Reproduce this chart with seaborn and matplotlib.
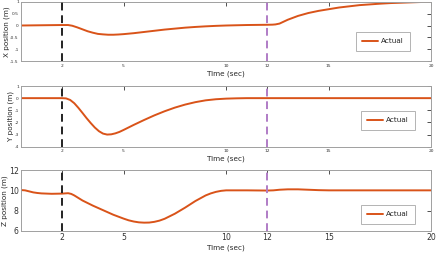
import numpy as np
import pandas as pd
import matplotlib
matplotlib.use("Agg")
import matplotlib.pyplot as plt
import seaborn as sns

# ---- data ----
t_x = [0, 1, 2, 2.3, 2.5, 2.75, 3, 3.25, 3.5, 3.75, 4, 4.25, 4.5, 4.75, 5, 5.5,
       6, 6.5, 7, 7.5, 8, 8.5, 9, 9.5, 10, 11, 12, 12.25, 12.4, 12.6, 12.8, 13,
       13.5, 14, 14.5, 15, 15.5, 16, 16.5, 17, 17.5, 18, 18.5, 19, 19.5, 20]
x_pos = [0.0, 0.01, 0.02, 0.02, -0.01, -0.08, -0.16, -0.24, -0.30, -0.35, -0.37,
         -0.385, -0.385, -0.375, -0.36, -0.32, -0.27, -0.22, -0.17, -0.13, -0.09,
         -0.06, -0.035, -0.015, 0.0, 0.02, 0.03, 0.035, 0.045, 0.08, 0.16, 0.24,
         0.40, 0.52, 0.61, 0.68, 0.75, 0.80, 0.85, 0.88, 0.91, 0.935, 0.95,
         0.965, 0.98, 0.99]

t_y = [0, 1, 2, 2.2, 2.4, 2.6, 2.8, 3.0, 3.2, 3.4, 3.6, 3.8, 4.0, 4.2, 4.4, 4.6,
       4.8, 5.0, 5.5, 6, 6.5, 7, 7.5, 8, 8.5, 9, 9.5, 10, 10.5, 11, 20]
y_pos = [0.0, 0.0, 0.0, -0.02, -0.15, -0.42, -0.80, -1.22, -1.65, -2.05, -2.42,
         -2.72, -2.92, -3.0, -2.98, -2.90, -2.78, -2.62, -2.20, -1.80, -1.42,
         -1.08, -0.78, -0.53, -0.33, -0.18, -0.09, -0.04, -0.015, 0.0, 0.0]

t_z = [0, 0.2, 0.4, 0.6, 0.8, 1, 1.5, 2, 2.3, 2.45, 2.6, 2.8, 3, 3.5, 4, 4.5, 5,
       5.25, 5.5, 5.75, 6, 6.25, 6.5, 6.75, 7, 7.5, 8, 8.5, 9, 9.25, 9.5, 9.75,
       10, 11, 12, 12.3, 12.6, 13, 13.5, 14, 14.5, 15, 20]
z_pos = [10.03, 10.0, 9.9, 9.8, 9.74, 9.7, 9.66, 9.68, 9.72, 9.65, 9.5, 9.25,
         9.0, 8.5, 8.05, 7.6, 7.22, 7.05, 6.93, 6.85, 6.82, 6.83, 6.9, 7.02, 7.2,
         7.7, 8.3, 8.95, 9.5, 9.7, 9.85, 9.95, 10.0, 10.0, 9.98, 10.0, 10.06,
         10.1, 10.1, 10.06, 10.02, 10.0, 10.0]

events = [2, 12]
event_colors = ["#222222", "#B07CC6"]
xticks = [2, 5, 10, 12, 15, 20]

panels = [
    ("X position (m)", t_x, x_pos, (-1.5, 1), [-1.5, -1, -0.5, 0, 0.5, 1],
     ["-1.5", "-1", "-0.5", "0", "0.5", "1"], 3.2, (0.957, 0.558)),
    ("Y position (m)", t_y, y_pos, (-4, 1), [-4, -3, -2, -1, 0, 1],
     ["-4", "-3", "-2", "-1", "0", "1"], 3.2, (0.970, 0.654)),
    ("Z position (m)", t_z, z_pos, (6, 12), [6, 8, 10, 12],
     ["6", "8", "10", "12"], 5.6, (0.970, 0.49)),
]

sns.set_style("white")
plt.rcParams["font.family"] = ["DejaVu Sans"]

fig = plt.figure(figsize=(4.36, 2.54), dpi=100)
boxes = [[0.048, 0.758, 0.9415, 0.236],
         [0.048, 0.4224, 0.9415, 0.239],
         [0.048, 0.0906, 0.9415, 0.240]]

for box, (ylab, tt, vals, ylim, yt, ytl, tfs, legpos) in zip(boxes, panels):
    ax = fig.add_axes(box)
    df = pd.DataFrame({"t": tt, "v": vals})
    sns.lineplot(data=df, x="t", y="v", ax=ax, color="#D95319", lw=1.4,
                 label="Actual")
    for ev, c in zip(events, event_colors):
        ax.axvline(ev, color=c, ls=(0, (4, 2.5)), lw=1.4, zorder=3)
    ax.set_xlim(0, 20)
    ax.set_ylim(*ylim)
    ax.set_xticks(xticks)
    ax.set_xticklabels([str(v) for v in xticks])
    ax.set_yticks(yt)
    ax.set_yticklabels(ytl)
    ax.tick_params(axis="both", direction="in", length=3, width=0.6,
                   top=True, right=True, labelsize=tfs, colors="#333333",
                   pad=1.5)
    ax.set_xlabel("Time (sec)", fontsize=5.2, color="#262626", labelpad=2)
    ax.set_ylabel(ylab, fontsize=5.2, color="#262626", labelpad=0.5)
    for s in ax.spines.values():
        s.set_color("#A0A0A0")
        s.set_linewidth(0.7)
    leg = ax.legend(loc="upper right", bbox_to_anchor=legpos, fontsize=5.2,
                    frameon=True, fancybox=False, handlelength=2.2,
                    borderpad=0.9, handletextpad=0.4)
    leg.get_frame().set_edgecolor("#A0A0A0")
    leg.get_frame().set_linewidth(0.7)

fig.savefig("out.png", dpi=100)
